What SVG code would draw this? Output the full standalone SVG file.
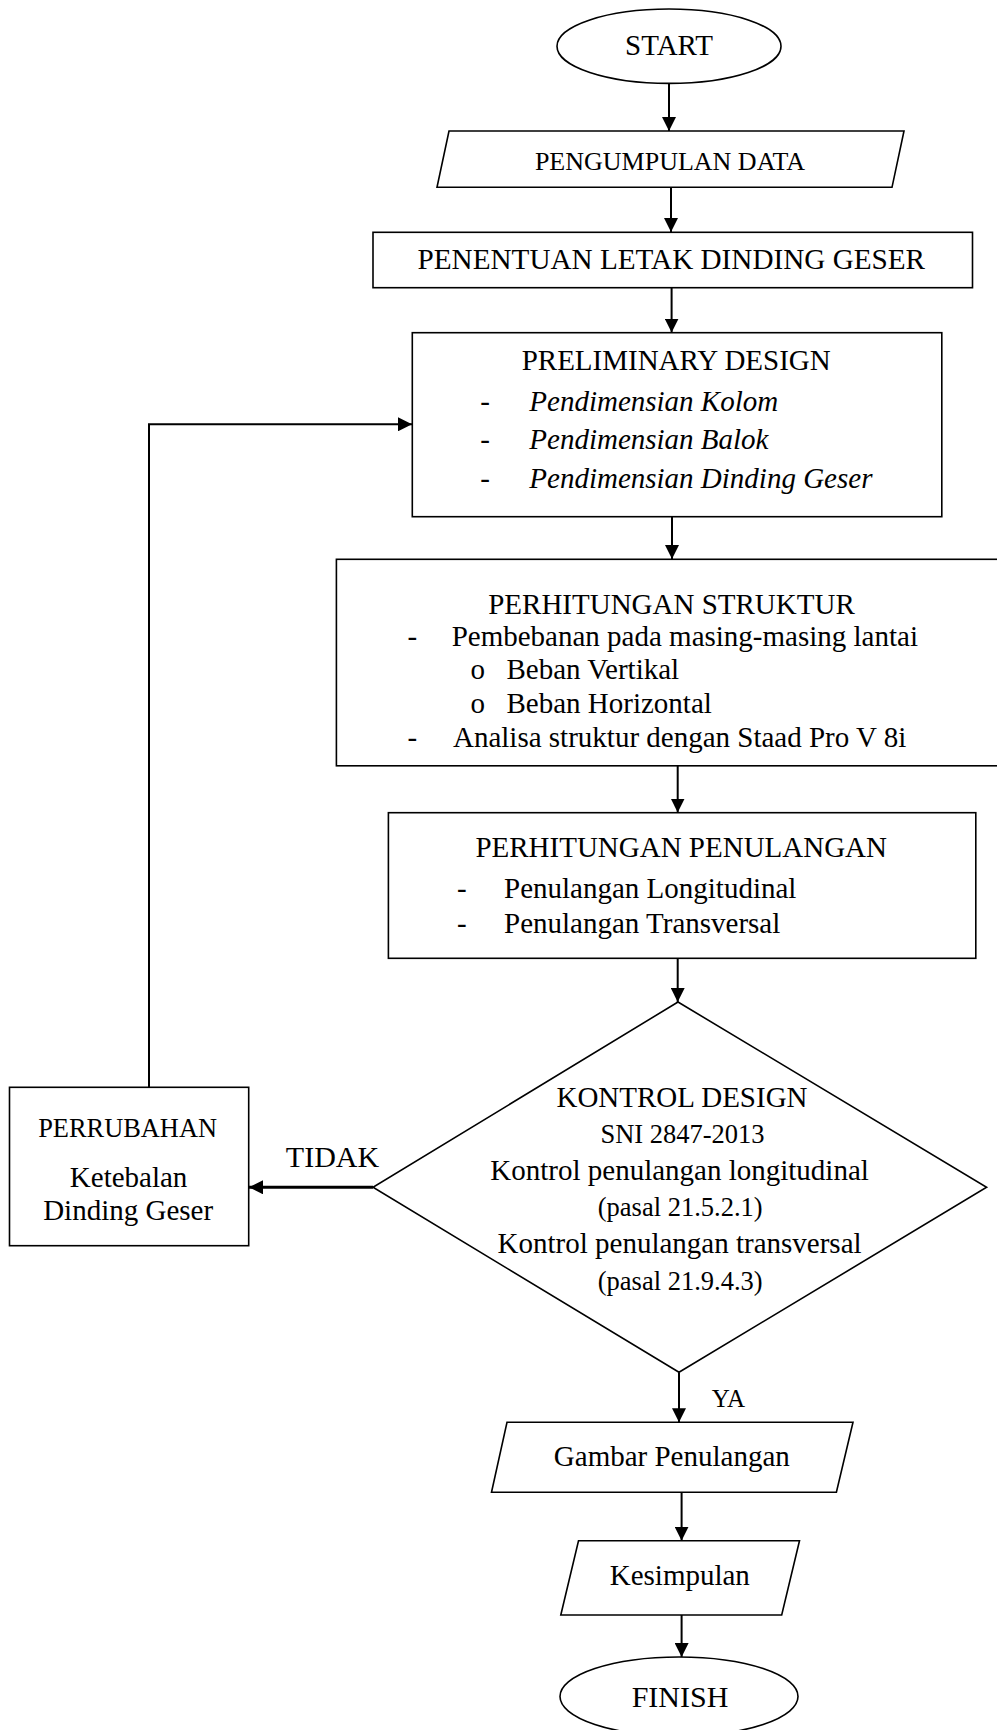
<svg xmlns="http://www.w3.org/2000/svg" width="997" height="1730" viewBox="0 0 997 1730">
<defs>
<style>
.s{fill:#fff;stroke:#000;stroke-width:1.6}
.c{fill:none;stroke:#000;stroke-width:2}
.t{font-family:"Liberation Serif","Times New Roman",serif;fill:#000}
.m{text-anchor:middle}
.i{font-style:italic}
</style>
<marker id="ah" viewBox="0 0 14 14" refX="14" refY="7" markerWidth="14" markerHeight="14" markerUnits="userSpaceOnUse" orient="auto">
<path d="M0,0 L14,7 L0,14 z" fill="#000"/>
</marker>
</defs>
<rect width="997" height="1730" fill="#fff"/>

<g id="connectors">
<line class="c" x1="669" y1="83" x2="669" y2="131" marker-end="url(#ah)"/>
<line class="c" x1="671" y1="187" x2="671" y2="232" marker-end="url(#ah)"/>
<line class="c" x1="671.6" y1="288" x2="671.6" y2="332.5" marker-end="url(#ah)"/>
<line class="c" x1="672" y1="517" x2="672" y2="559" marker-end="url(#ah)"/>
<line class="c" x1="677.7" y1="766" x2="677.7" y2="812.5" marker-end="url(#ah)"/>
<line class="c" x1="677.7" y1="958.5" x2="677.7" y2="1002" marker-end="url(#ah)"/>
<line class="c" x1="373" y1="1187.3" x2="249" y2="1187.3" style="stroke-width:3" marker-end="url(#ah)"/>
<polyline class="c" points="149,1087.3 149,424.3 412,424.3" marker-end="url(#ah)"/>
<line class="c" x1="679" y1="1372.3" x2="679" y2="1422.3" marker-end="url(#ah)"/>
<line class="c" x1="681.6" y1="1492.3" x2="681.6" y2="1540.7" marker-end="url(#ah)"/>
<line class="c" x1="681.6" y1="1615" x2="681.6" y2="1657" marker-end="url(#ah)"/>
<text class="t" x="332.5" y="1167.3" font-size="30" text-anchor="middle">TIDAK</text>
<text class="t" x="711.8" y="1406.7" font-size="25">YA</text>
</g>

<g id="start">
<ellipse class="s" cx="669" cy="46.2" rx="112" ry="37.2"/>
<text class="t m" x="669" y="55" font-size="29">START</text>
</g>

<g id="pengumpulan">
<polygon class="s" points="449,131 904,131 892,187.3 437,187.3"/>
<text class="t m" x="670" y="170" font-size="26">PENGUMPULAN DATA</text>
</g>

<g id="penentuan">
<rect class="s" x="373" y="232.3" width="599.5" height="55.4"/>
<text class="t m" x="671.3" y="269" font-size="29.2">PENENTUAN LETAK DINDING GESER</text>
</g>

<g id="preliminary">
<rect class="s" x="412.3" y="332.7" width="529.5" height="184"/>
<text class="t m" x="676.2" y="370" font-size="29">PRELIMINARY DESIGN</text>
<text class="t" x="480.3" y="411" font-size="29">-</text>
<text class="t i" x="529.3" y="411" font-size="29">Pendimensian Kolom</text>
<text class="t" x="480.3" y="449" font-size="29">-</text>
<text class="t i" x="529.3" y="449" font-size="29">Pendimensian Balok</text>
<text class="t" x="480.3" y="488" font-size="29">-</text>
<text class="t i" x="529.3" y="488" font-size="29">Pendimensian Dinding Geser</text>
</g>

<g id="struktur">
<rect class="s" x="336.4" y="559.3" width="670" height="206.5"/>
<text class="t m" x="671.5" y="614.3" font-size="29">PERHITUNGAN STRUKTUR</text>
<text class="t" x="407.5" y="645.7" font-size="29">-</text>
<text class="t" x="451.7" y="645.7" font-size="29">Pembebanan pada masing-masing lantai</text>
<text class="t" x="470.5" y="679" font-size="29">o</text>
<text class="t" x="506.5" y="679" font-size="29">Beban Vertikal</text>
<text class="t" x="470.5" y="713.3" font-size="29">o</text>
<text class="t" x="506.5" y="713.3" font-size="29">Beban Horizontal</text>
<text class="t" x="407.5" y="746.7" font-size="29">-</text>
<text class="t" x="453" y="746.7" font-size="29">Analisa struktur dengan Staad Pro V 8i</text>
</g>

<g id="penulangan">
<rect class="s" x="388.4" y="812.7" width="587.4" height="145.6"/>
<text class="t m" x="681.2" y="857.3" font-size="29">PERHITUNGAN PENULANGAN</text>
<text class="t" x="457" y="898.3" font-size="29">-</text>
<text class="t" x="504" y="898.3" font-size="29">Penulangan Longitudinal</text>
<text class="t" x="457" y="932.7" font-size="29">-</text>
<text class="t" x="504" y="932.7" font-size="29">Penulangan Transversal</text>
</g>

<g id="kontrol">
<polygon class="s" points="678,1002 986.6,1187.3 679,1372.3 373,1187.3"/>
<text class="t m" x="682" y="1106.7" font-size="29">KONTROL DESIGN</text>
<text class="t m" x="682.5" y="1143.3" font-size="26.5">SNI 2847-2013</text>
<text class="t m" x="679.6" y="1180" font-size="29">Kontrol penulangan longitudinal</text>
<text class="t m" x="680.2" y="1216" font-size="26.5">(pasal 21.5.2.1)</text>
<text class="t m" x="679.6" y="1253.3" font-size="29">Kontrol penulangan transversal</text>
<text class="t m" x="680.2" y="1290" font-size="26.5">(pasal 21.9.4.3)</text>
</g>

<g id="perubahan">
<rect class="s" x="9.5" y="1087.3" width="239.2" height="158.4"/>
<text class="t m" x="127.6" y="1137.3" font-size="26.4">PERRUBAHAN</text>
<text class="t m" x="128.6" y="1186.7" font-size="29">Ketebalan</text>
<text class="t m" x="128.1" y="1220" font-size="29">Dinding Geser</text>
</g>

<g id="gambar">
<polygon class="s" points="507,1422.3 853,1422.3 836.4,1492.3 491.5,1492.3"/>
<text class="t m" x="671.8" y="1466" font-size="29">Gambar Penulangan</text>
</g>

<g id="kesimpulan">
<polygon class="s" points="578.5,1540.7 799.5,1540.7 781.7,1615 560.8,1615"/>
<text class="t m" x="679.8" y="1585" font-size="29">Kesimpulan</text>
</g>

<g id="finish">
<ellipse class="s" cx="679" cy="1696.5" rx="119" ry="39.5"/>
<text class="t m" x="680" y="1706.7" font-size="30">FINISH</text>
</g>
</svg>
